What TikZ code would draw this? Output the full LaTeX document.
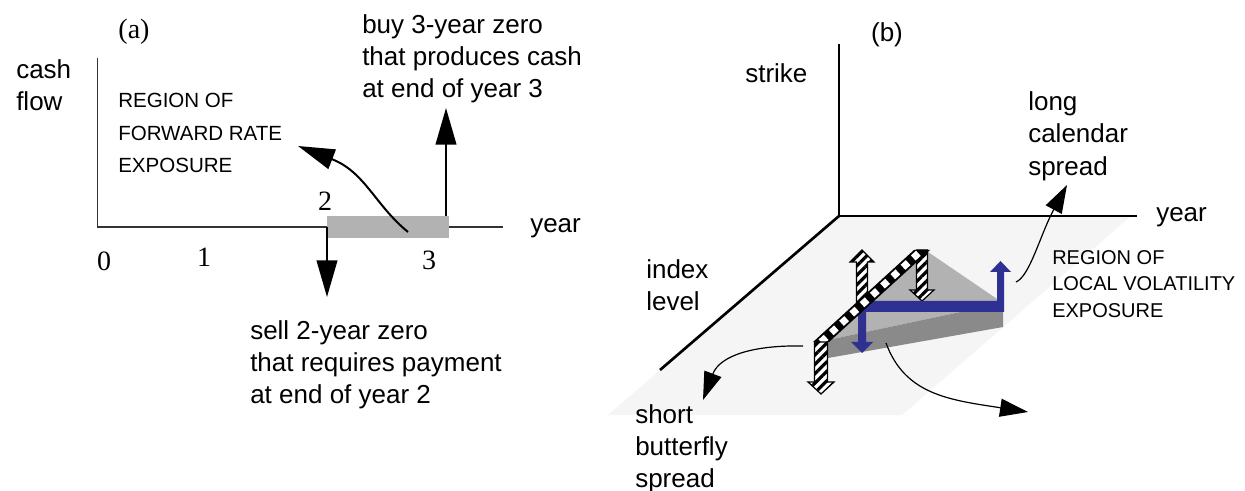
\documentclass[tikz,border=0pt]{standalone}
\usepackage{fontspec}
\setmainfont{Liberation Sans}
\newfontfamily\serifdigits{Liberation Serif}
\usetikzlibrary{arrows.meta,patterns.meta}
\definecolor{volblue}{RGB}{46,49,146}
\begin{document}
\begin{tikzpicture}[x=0.75pt,y=-0.75pt,
  lbl/.style={font=\fontsize{19.5}{24}\selectfont, inner sep=0pt, align=left},
  capsA/.style={font=\fontsize{15.4}{24.4}\selectfont, inner sep=0pt, align=left},
  capsB/.style={font=\fontsize{15}{20}\selectfont, inner sep=0pt, align=left},
  num/.style={font=\serifdigits\fontsize{21}{24}\selectfont, inner sep=0pt},
  axisA/.style={line width=1.2pt, draw=black!80},
  axisB/.style={line width=2pt, draw=black},
  bigarrow/.style={line width=1.5pt, -{Triangle[length=27.5pt,width=15.5pt]}},
  thinarrow/.style={line width=0.9pt, -{Triangle[length=21pt,width=13.5pt]}},
  stripes/.style={preaction={fill=white}, pattern={Lines[angle=45,distance=5pt,line width=2.4pt]}, pattern color=black, draw=black, line width=0.9pt},
]
\useasboundingbox (0,0) rectangle (1245,491);
\fill[white] (0,0) rectangle (1245,491);

% ---------------- panel (a) ----------------
\coordinate (oA) at (97.5,227);
\coordinate (yTopA) at (97.5,58);
\coordinate (xEndA) at (503,227);
\draw[axisA] (yTopA) -- (oA) -- (xEndA);
\node[fill=black!30, inner sep=0pt, minimum width=91.5pt, minimum height=16.5pt, anchor=north west] (band) at (327,216) {};
\coordinate (downS) at (327,227);
\coordinate (downT) at (327,297);
\draw[bigarrow] (downS) -- (downT);
\coordinate (upS) at (446,216);
\coordinate (upT) at (446,108);
\draw[bigarrow] (upS) -- (upT);
\coordinate (curS) at (408,232);
\coordinate (curT) at (298,146);
\draw[bigarrow] (curS) .. controls (375,205) and (365,172) .. (curT);

\node[num, anchor=base] (lblA) at (134,39) {(a)};
\node[num, anchor=base] (n0) at (104,271) {0};
\node[num, anchor=base] (n1) at (204,267) {1};
\node[num, anchor=base] (n2) at (325,211) {2};
\node[num, anchor=base] (n3) at (429,270) {3};
\node[lbl, anchor=north west] (cashflow) at (16,59) {cash\\flow};
\node[capsA, anchor=north west] (regA) at (118,93) {REGION OF\\FORWARD RATE\\EXPOSURE};
\node[lbl, anchor=north west] (buy) at (362,14) {buy 3-year zero\\that produces cash\\at end of year 3};
\node[lbl, anchor=north west] (sell) at (250,320) {sell 2-year zero\\that requires payment\\at end of year 2};
\node[lbl, anchor=base west] (yearA) at (530,233) {year};

% ---------------- panel (b) ----------------
\fill[black!4] (839,216) -- (1131,216) -- (902,415) -- (608,415) -- cycle;
\coordinate (oB) at (839,216);
\coordinate (strikeTop) at (839,44);
\coordinate (yearEnd) at (1137,216);
\coordinate (indexEnd) at (660,370);
\draw[axisB] (strikeTop) -- (oB) -- (yearEnd);
\draw[axisB] (oB) -- (indexEnd);

% prism
\fill[black!30] (928,252) -- (1003,303) -- (828,340) -- cycle;
\fill[black!46] (828,340) -- (1003,303) -- (1003,327) -- (828,358) -- cycle;

% striped arrows (behind the diagonal strip)
\filldraw[stripes] (916.5,250) -- (927.5,250) -- (927.5,290) -- (934,290) -- (922,301) -- (910,290) -- (916.5,290) -- cycle;
\filldraw[stripes] (856.5,305) -- (856.5,262) -- (850,262) -- (862,250) -- (874,262) -- (867.5,262) -- (867.5,305) -- cycle;

% blue calendar path
\fill[volblue] (862,353) -- (873,342) -- (866,342) -- (866,312) -- (1004,312) -- (1004,272) -- (1011,272) -- (1000.5,261) -- (990,272) -- (997,272) -- (997,301) -- (858,301) -- (858,342) -- (851,342) -- cycle;

% diagonal checkered strip
\fill[black] (813,342) -- (829,342) -- (930,250) -- (914,250) -- cycle;
\begin{scope}
\clip (813,342) -- (829,342) -- (930,250) -- (914,250) -- cycle;
\draw[white, line width=5.2pt, dash pattern=on 5.2pt off 5.2pt] (821,342) -- (922,250);
\end{scope}
\filldraw[stripes] (814.5,342) -- (827.5,342) -- (827.5,382) -- (834,382) -- (821,394) -- (808,382) -- (814.5,382) -- cycle;

% curved pointers
\coordinate (calS) at (1016,282);
\coordinate (calT) at (1067,185);
\draw[thinarrow] (calS) .. controls (1030,276) and (1040,235) .. (calT);
\coordinate (butS) at (803,346);
\coordinate (butT) at (703,400);
\draw[thinarrow] (butS) .. controls (755,345) and (720,355) .. (butT);
\coordinate (volS) at (886,343);
\coordinate (volT) at (1028,412);
\draw[thinarrow] (volS) .. controls (905,395) and (950,400) .. (volT);

\node[lbl, anchor=base] (lblB) at (887,42) {(b)};
\node[lbl, anchor=base west] (strike) at (745,83) {strike};
\node[lbl, anchor=north west, font=\fontsize{19.5}{24.4}\selectfont] (longcal) at (1028,91) {long\\calendar\\spread};
\node[lbl, anchor=base west] (yearB) at (1156,222) {year};
\node[lbl, anchor=north west] (index) at (646,259) {index\\level};
\node[capsB, anchor=north west] (regB) at (1052,250) {REGION OF\\LOCAL VOLATILITY\\EXPOSURE};
\node[lbl, anchor=north west] (short) at (635,404) {short\\butterfly\\spread};
\end{tikzpicture}
\end{document}
